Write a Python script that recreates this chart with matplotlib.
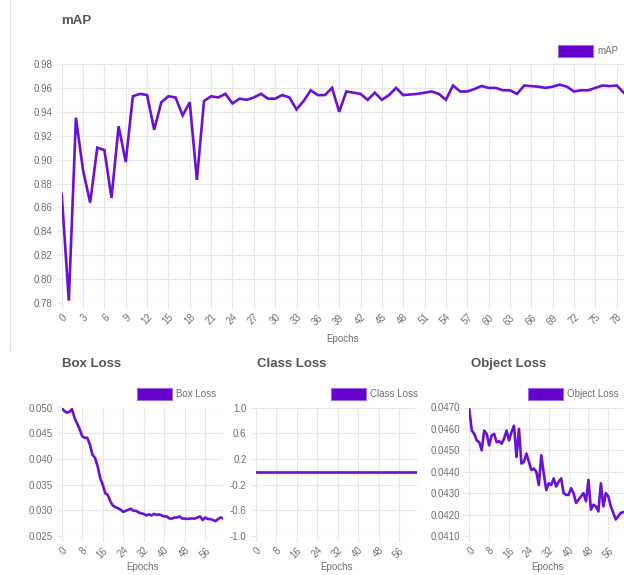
import matplotlib
matplotlib.use("Agg")
import matplotlib.pyplot as plt
from matplotlib.patches import Rectangle
from matplotlib.lines import Line2D
import numpy as np

plt.rcParams['font.family'] = ['Liberation Sans', 'DejaVu Sans']

# ---------------- data ----------------
map_values = [0.871, 0.782, 0.935, 0.891, 0.864, 0.910, 0.908, 0.868, 0.928, 0.898,
              0.953, 0.955, 0.954, 0.925, 0.948, 0.953, 0.952, 0.937, 0.948, 0.883,
              0.949, 0.953, 0.952, 0.955, 0.947, 0.951, 0.950, 0.952, 0.955, 0.951,
              0.951, 0.954, 0.952, 0.942, 0.949, 0.958, 0.954, 0.954, 0.960, 0.940,
              0.957, 0.956, 0.955, 0.950, 0.956, 0.950, 0.954, 0.960, 0.954, 0.9545,
              0.955, 0.956, 0.957, 0.955, 0.950, 0.962, 0.957, 0.957, 0.959, 0.9616,
              0.960, 0.960, 0.958, 0.958, 0.955, 0.962, 0.9615, 0.961, 0.960, 0.961,
              0.9627, 0.961, 0.957, 0.958, 0.958, 0.960, 0.962, 0.9615, 0.962, 0.956]

box_loss = [0.0499, 0.04935, 0.0490, 0.04915, 0.0497, 0.0480, 0.0469, 0.0458, 0.0444, 0.0441,
            0.0441, 0.0428, 0.0408, 0.0402, 0.0386, 0.0363, 0.0350, 0.0333, 0.0330, 0.0317,
            0.0309, 0.0306, 0.0304, 0.0301, 0.0297, 0.0299, 0.0301, 0.0303, 0.0299, 0.0299,
            0.0296, 0.0294, 0.0293, 0.0290, 0.0292, 0.0290, 0.0293, 0.0291, 0.0292, 0.0290,
            0.0288, 0.0288, 0.0284, 0.0284, 0.0286, 0.0286, 0.0288, 0.0284, 0.0284, 0.0283,
            0.0284, 0.0284, 0.0284, 0.0286, 0.0288, 0.0281, 0.0286, 0.0283, 0.0283, 0.0281,
            0.0279, 0.0283, 0.0286, 0.0284]

class_loss = [0.0] * 64

object_loss = [0.04692, 0.04592, 0.04577, 0.04546, 0.04538, 0.04500, 0.04592, 0.04577, 0.04523, 0.04569,
               0.04577, 0.04538, 0.04543, 0.04531, 0.04554, 0.04592, 0.04546, 0.04585, 0.04615, 0.04469,
               0.04600, 0.04438, 0.04446, 0.04485, 0.04446, 0.04408, 0.04415, 0.04400, 0.04338, 0.04477,
               0.04392, 0.04315, 0.04346, 0.04338, 0.04369, 0.04331, 0.04354, 0.04369, 0.04300, 0.04292,
               0.04292, 0.04323, 0.04300, 0.04254, 0.04269, 0.04285, 0.04300, 0.04262, 0.04362, 0.04223,
               0.04246, 0.04238, 0.04215, 0.04346, 0.04238, 0.04300, 0.04285, 0.04238, 0.04208, 0.04177,
               0.04192, 0.04208, 0.04211, 0.04215]

map_xticks = list(range(0, 80, 3))
loss_xticks = list(range(0, 57, 8))
map_yticks = [0.78, 0.80, 0.82, 0.84, 0.86, 0.88, 0.90, 0.92, 0.94, 0.96, 0.98]
box_yticks = [0.025, 0.030, 0.035, 0.040, 0.045, 0.050]
class_yticks = [-1.0, -0.6, -0.2, 0.2, 0.6, 1.0]
object_yticks = [0.0410, 0.0420, 0.0430, 0.0440, 0.0450, 0.0460, 0.0470]

# ---------------- style ----------------
W, H = 624, 575
LINE = '#6a11d4'
FILL = '#6600cc'
GRID = '#e6e6e6'
TXT = '#707070'
TITLE = '#555555'

fig = plt.figure(figsize=(W / 100, H / 100), dpi=100)


def px_axes(left, top, right, bottom):
    return fig.add_axes([left / W, 1 - bottom / H, (right - left) / W, (bottom - top) / H])


def style(ax, xticks, yticks, yfmt, xmax, ymin, ymax):
    for s in ax.spines.values():
        s.set_visible(False)
    ax.set_xlim(0, xmax)
    ax.set_ylim(ymin, ymax)
    ax.set_xticks(xticks)
    ax.set_yticks(yticks)
    ax.set_yticklabels([yfmt.format(v) for v in yticks])
    ax.grid(True, color=GRID, linewidth=0.8)
    ax.set_axisbelow(True)
    ax.tick_params(axis='both', colors=GRID, labelcolor=TXT, labelsize=7,
                   length=3.6, width=0.8, pad=3)
    for lab in ax.get_xticklabels():
        lab.set_rotation(45)
        lab.set_ha('right')
        lab.set_rotation_mode('anchor')
    ax.set_xlabel('Epochs', fontsize=7, color=TXT)


def legend(x0, y0, label):
    fig.patches.append(Rectangle((x0 / W, 1 - (y0 + 12) / H), 35 / W, 12 / H,
                                 transform=fig.transFigure, facecolor=FILL,
                                 edgecolor='#9a6ae6', linewidth=0.8))
    fig.text((x0 + 39) / W, 1 - (y0 + 6) / H, label, fontsize=7, color=TXT,
             ha='left', va='center')


# card border line on the left of top chart
fig.add_artist(Line2D([10 / W, 10 / W], [1.0, 1 - 350 / H], color='#dddddd', linewidth=1.0))

# ---------------- mAP chart ----------------
ax1 = px_axes(61.7, 64, 623.8, 303)
ax1.plot(range(len(map_values)), map_values, color=LINE, linewidth=1.9, solid_joinstyle='miter')
style(ax1, map_xticks, map_yticks, '{:.2f}', len(map_values) - 1, 0.78, 0.98)
ax1.xaxis.set_label_coords(0.5, -36 / 239)
ax1.xaxis.label.set_va('center')
fig.text(61 / W, 1 - 20.5 / H, 'mAP', fontsize=9.5, fontweight='bold', color=TITLE,
         ha='left', va='center')
legend(558, 45, 'mAP')

# ---------------- Box Loss ----------------
ax2 = px_axes(61.7, 407.5, 223.2, 536)
ax2.plot(range(len(box_loss)), box_loss, color=LINE, linewidth=1.9)
style(ax2, loss_xticks, box_yticks, '{:.3f}', len(box_loss) - 1, 0.025, 0.050)
ax2.xaxis.set_label_coords(0.5, -31 / 128.5)
ax2.xaxis.label.set_va('center')
fig.text(62 / W, 1 - 364 / H, 'Box Loss', fontsize=9.5, fontweight='bold', color=TITLE,
         ha='left', va='center')
legend(137, 388, 'Box Loss')

# ---------------- Class Loss ----------------
ax3 = px_axes(255.7, 407.5, 417.0, 536)
ax3.plot(range(len(class_loss)), class_loss, color=LINE, linewidth=1.9)
style(ax3, loss_xticks, class_yticks, '{:.1f}', len(class_loss) - 1, -1.0, 1.0)
ax3.xaxis.set_label_coords(0.5, -31 / 128.5)
ax3.xaxis.label.set_va('center')
fig.text(256.7 / W, 1 - 364 / H, 'Class Loss', fontsize=9.5, fontweight='bold', color=TITLE,
         ha='left', va='center')
legend(331, 388, 'Class Loss')

# ---------------- Object Loss ----------------
ax4 = px_axes(469.3, 407.5, 625.7, 536)
ax4.plot(range(len(object_loss)), object_loss, color=LINE, linewidth=1.9)
style(ax4, loss_xticks, object_yticks, '{:.4f}', len(object_loss) - 1, 0.0410, 0.0470)
ax4.xaxis.set_label_coords(0.5, -31 / 128.5)
ax4.xaxis.label.set_va('center')
fig.text(470.7 / W, 1 - 364 / H, 'Object Loss', fontsize=9.5, fontweight='bold', color=TITLE,
         ha='left', va='center')
legend(528, 388, 'Object Loss')

fig.savefig('out.png', dpi=100)
